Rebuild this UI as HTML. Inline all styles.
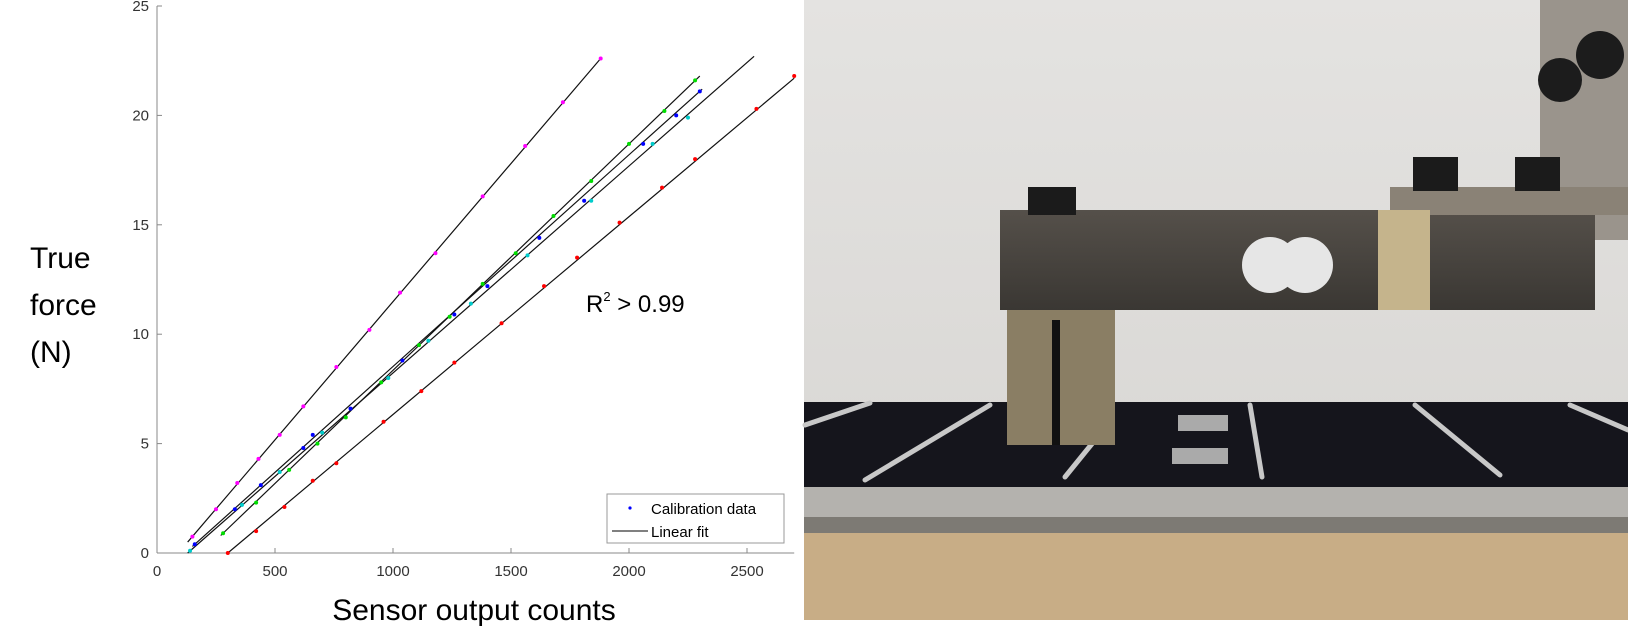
<!DOCTYPE html>
<html><head><meta charset="utf-8">
<style>
body{margin:0;background:#fff;width:1628px;height:642px;overflow:hidden;font-family:"Liberation Sans",sans-serif}
svg{position:absolute;left:0;top:0}
</style></head>
<body>
<svg id="chart" width="1628" height="642">
 <g id="photo">
  <defs>
   <linearGradient id="wall" x1="0" y1="0" x2="0" y2="1"><stop offset="0" stop-color="#e4e3e1"/><stop offset="1" stop-color="#d6d4d1"/></linearGradient>
   <linearGradient id="bar" x1="0" y1="0" x2="0" y2="1"><stop offset="0" stop-color="#55504a"/><stop offset="1" stop-color="#3a3733"/></linearGradient>
  </defs>
  <rect x="804" y="0" width="824" height="620" fill="url(#wall)"/>
  <rect x="1540" y="0" width="88" height="240" fill="#9a948c"/>
  <circle cx="1560" cy="80" r="22" fill="#1c1c1c"/><circle cx="1600" cy="55" r="24" fill="#1c1c1c"/>
  <rect x="804" y="402" width="824" height="85" fill="#15151c"/>
  <g stroke="#c8c8c8" stroke-width="5" stroke-linecap="round">
   <line x1="805" y1="425" x2="870" y2="403"/><line x1="865" y1="480" x2="990" y2="405"/>
   <line x1="1065" y1="477" x2="1095" y2="440"/><line x1="1262" y1="477" x2="1250" y2="405"/>
   <line x1="1500" y1="475" x2="1415" y2="405"/><line x1="1628" y1="430" x2="1570" y2="405"/>
  </g>
  <rect x="1178" y="415" width="50" height="16" fill="#aaa"/><rect x="1172" y="448" width="56" height="16" fill="#aaa"/>
  <rect x="804" y="487" width="824" height="30" fill="#b4b2ae"/>
  <rect x="804" y="517" width="824" height="16" fill="#7d7a74"/>
  <rect x="804" y="533" width="824" height="87" fill="#c8ad86"/>
  <rect x="1000" y="210" width="595" height="100" fill="url(#bar)"/>
  <rect x="1390" y="187" width="238" height="28" fill="#8a8276"/>
  <rect x="1413" y="157" width="45" height="34" fill="#1b1b1b"/><rect x="1515" y="157" width="45" height="34" fill="#1b1b1b"/>
  <rect x="1028" y="187" width="48" height="28" fill="#1b1b1b"/>
  <rect x="1007" y="310" width="108" height="135" fill="#8a7e64"/>
  <rect x="1052" y="320" width="8" height="125" fill="#111"/>
  <rect x="1378" y="210" width="52" height="100" fill="#c5b48c"/>
  <circle cx="1270" cy="265" r="28" fill="#e6e6e6"/><circle cx="1305" cy="265" r="28" fill="#e6e6e6"/>
 </g>
 <g id="axes"></g>
 <g id="fits"></g>
 <g id="pts"></g>
 <text x="30" y="268" font-size="30" fill="#000">True</text>
 <text x="30" y="315" font-size="30" fill="#000">force</text>
 <text x="30" y="362" font-size="30" fill="#000">(N)</text>
 <text x="474" y="620" font-size="30" text-anchor="middle" fill="#000">Sensor output counts</text>
 <text x="586" y="312" font-size="24" fill="#000">R<tspan font-size="13" dy="-11">2</tspan><tspan dy="11"> &gt; 0.99</tspan></text>
 <g>
  <rect x="607" y="494" width="177" height="49" fill="#fff" stroke="#999"/>
  <circle cx="630" cy="508" r="1.6" fill="#0000ff"/>
  <text x="651" y="514" font-size="15">Calibration data</text>
  <line x1="612" y1="531" x2="648" y2="531" stroke="#000"/>
  <text x="651" y="537" font-size="15">Linear fit</text>
 </g>
</svg>
<script>
const xTicks=[0,500,1000,1500,2000,2500];
const yTicks=[0,5,10,15,20,25];
const seriesColors=["#ff00ff","#00dd00","#0000ff","#00cccc","#ff0000"];
const fitX0=[130,270,150,130,300];
const fitY0=[0.5,0.8,0.3,0,0];
const fitX1=[1880,2300,2310,2530,2700];
const fitY1=[22.6,21.8,21.2,22.7,21.7];
const ptsX=[
 [150,250,340,430,520,620,760,900,1030,1180,1380,1560,1720,1880],
 [280,420,560,680,800,950,1110,1240,1380,1520,1680,1840,2000,2150,2280],
 [160,330,440,620,660,820,1040,1260,1400,1620,1810,2060,2200,2300],
 [140,360,520,700,980,1150,1330,1570,1840,2100,2250],
 [300,420,540,660,760,960,1120,1260,1460,1640,1780,1960,2140,2280,2540,2700]];
const ptsY=[
 [0.75,2.0,3.2,4.3,5.4,6.7,8.5,10.2,11.9,13.7,16.3,18.6,20.6,22.6],
 [0.9,2.3,3.8,5.0,6.2,7.8,9.5,10.8,12.3,13.7,15.4,17.0,18.7,20.2,21.6],
 [0.4,2.0,3.1,4.8,5.4,6.6,8.8,10.9,12.2,14.4,16.1,18.7,20.0,21.1],
 [0.1,2.2,3.7,5.5,8.0,9.7,11.4,13.6,16.1,18.7,19.9],
 [0,1.0,2.1,3.3,4.1,6.0,7.4,8.7,10.5,12.2,13.5,15.1,16.7,18.0,20.3,21.8]];
const X=v=>157+v*0.236, Y=v=>553-v*21.88;
const NS="http://www.w3.org/2000/svg";
function mk(t,a,p){const e=document.createElementNS(NS,t);for(const k in a)e.setAttribute(k,a[k]);p.appendChild(e);return e;}
const ax=document.getElementById('axes');
let l=mk('line',{x1:X(0),y1:Y(0),x2:X(2700),y2:Y(0),stroke:'#888'},ax);


l=mk('line',{x1:X(0),y1:Y(0),x2:X(0),y2:Y(25),stroke:'#888'},ax);


xTicks.forEach(v=>{mk('line',{x1:X(v),y1:Y(0),x2:X(v),y2:Y(0)-5,stroke:'#888'},ax);
 const t=mk('text',{x:X(v),y:Y(0)+23,'font-size':15,'text-anchor':'middle',fill:'#333'},ax);t.textContent=v;
 
 });
yTicks.forEach(v=>{mk('line',{x1:X(0),y1:Y(v),x2:X(0)+5,y2:Y(v),stroke:'#888'},ax);
 const t=mk('text',{x:X(0)-8,y:Y(v)+5,'font-size':15,'text-anchor':'end',fill:'#333'},ax);t.textContent=v;
 
 });
const fg=document.getElementById('fits'),pg=document.getElementById('pts');
seriesColors.forEach((c,i)=>{
 const f=mk('line',{x1:X(fitX0[i]),y1:Y(fitY0[i]),x2:X(fitX1[i]),y2:Y(fitY1[i]),stroke:'#111','stroke-width':1.2},fg);
 
 
 ptsX[i].forEach((x,j)=>{const p=mk('circle',{cx:X(x),cy:Y(ptsY[i][j]),r:2,fill:c},pg);
  
  });
});
</script>
</body></html>
